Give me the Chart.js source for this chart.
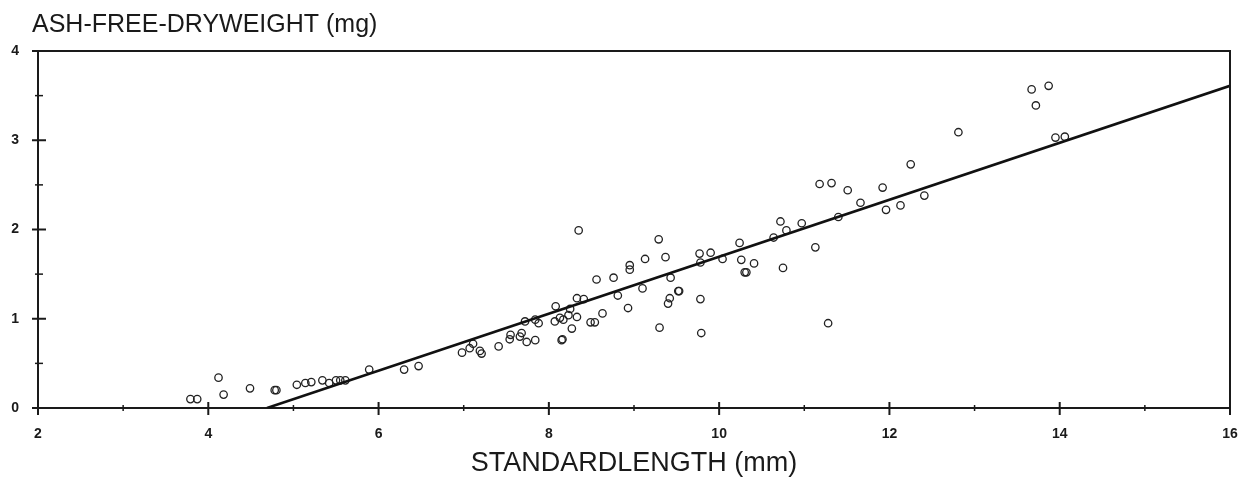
<!DOCTYPE html>
<html>
<head>
<meta charset="utf-8">
<script src="https://cdn.jsdelivr.net/npm/chart.js@4.4.0/dist/chart.umd.min.js"></script>
<style>
  html, body { margin: 0; padding: 0; background: #fff; }
  #wrap { width: 1253px; height: 483px; }
</style>
</head>
<body>
<div id="wrap"><canvas id="mychart"></canvas></div>
<script>
//standard length (mm) of each fish
let lengthMm = [
  3.79, 3.87, 4.12, 4.18, 4.49, 4.78, 4.80, 5.04, 5.14, 5.21,
  5.34, 5.42, 5.50, 5.55, 5.61, 5.89, 6.30, 6.47, 6.98, 7.07,
  7.11, 7.19, 7.21, 7.41, 7.54, 7.55, 7.66, 7.68, 7.74, 7.72,
  7.84, 7.84, 7.88, 8.07, 8.08, 8.15, 8.16, 8.13, 8.17, 8.23,
  8.27, 8.25, 8.33, 8.33, 8.41, 8.49, 8.54, 8.63, 8.35, 8.56,
  8.76, 8.81, 8.93, 8.95, 8.95, 9.13, 9.10, 9.29, 9.37, 9.30,
  9.43, 9.52, 9.53, 9.42, 9.40, 9.78, 9.79, 9.77, 9.78, 9.90,
  10.04, 10.24, 10.26, 10.30, 10.32, 10.41, 10.64, 10.72, 10.79, 10.75,
  10.97, 11.13, 11.40, 11.28, 11.66, 11.18, 11.32, 11.51, 11.92, 11.96,
  12.13, 12.41, 12.25, 12.81, 13.67, 13.87, 13.72, 13.95, 14.06,
];

//ash-free dryweight (mg), same order as lengthMm
let weightMg = [
  0.10, 0.10, 0.34, 0.15, 0.22, 0.20, 0.20, 0.26, 0.28, 0.29,
  0.31, 0.28, 0.31, 0.31, 0.31, 0.43, 0.43, 0.47, 0.62, 0.67,
  0.72, 0.64, 0.61, 0.69, 0.77, 0.82, 0.80, 0.84, 0.74, 0.97,
  0.76, 0.99, 0.95, 0.97, 1.14, 0.76, 0.77, 1.01, 0.99, 1.04,
  0.89, 1.11, 1.02, 1.23, 1.22, 0.96, 0.96, 1.06, 1.99, 1.44,
  1.46, 1.26, 1.12, 1.55, 1.60, 1.67, 1.34, 1.89, 1.69, 0.90,
  1.46, 1.31, 1.31, 1.23, 1.17, 1.22, 0.84, 1.73, 1.63, 1.74,
  1.67, 1.85, 1.66, 1.52, 1.52, 1.62, 1.91, 2.09, 1.99, 1.57,
  2.07, 1.80, 2.14, 0.95, 2.30, 2.51, 2.52, 2.44, 2.47, 2.22,
  2.27, 2.38, 2.73, 3.09, 3.57, 3.61, 3.39, 3.03, 3.04,
];

//ends of the fitted line
let fitX = [4.69, 16];
let fitY = [0, 3.61];

//labelled ticks
let xTickLabels = [2, 4, 6, 8, 10, 12, 14, 16];
let yTickLabels = [0, 1, 2, 3, 4];

let points = lengthMm.map((x, i) => ({ x: x, y: weightMg[i] }));
let fitLine = fitX.map((x, i) => ({ x: x, y: fitY[i] }));

Chart.defaults.font.family = "'Liberation Sans', Arial, sans-serif";
Chart.defaults.color = "#1a1a1a";

//frame on top/right, crossing tick marks, y title
const framePlugin = {
  id: "frame",
  afterDraw(chart) {
    const ctx = chart.ctx;
    const a = chart.chartArea;
    const xs = chart.scales.x;
    const ys = chart.scales.y;
    ctx.save();
    ctx.strokeStyle = "#1a1a1a";
    ctx.lineWidth = 2;
    ctx.beginPath();
    ctx.moveTo(a.left, a.top);
    ctx.lineTo(a.right, a.top);
    ctx.lineTo(a.right, a.bottom);
    ctx.stroke();

    xs.ticks.forEach((t) => {
      let px = xs.getPixelForValue(t.value);
      let major = xTickLabels.includes(t.value);
      ctx.lineWidth = major ? 2 : 1.5;
      ctx.beginPath();
      ctx.moveTo(px, a.bottom - (major ? 6 : 3));
      ctx.lineTo(px, a.bottom + (major ? 7 : 3));
      ctx.stroke();
    });
    ys.ticks.forEach((t) => {
      let py = ys.getPixelForValue(t.value);
      let major = yTickLabels.includes(t.value);
      ctx.lineWidth = major ? 2 : 1.5;
      ctx.beginPath();
      ctx.moveTo(a.left - (major ? 6 : 3), py);
      ctx.lineTo(a.left + (major ? 8 : 5), py);
      ctx.stroke();
    });

    ctx.fillStyle = "#1a1a1a";
    ctx.font = "25px 'Liberation Sans', Arial, sans-serif";
    ctx.textBaseline = "alphabetic";
    ctx.textAlign = "left";
    ctx.fillText("ASH-FREE-DRYWEIGHT (mg)", 32, 32);
    ctx.restore();
  },
};

const config = {
  type: "scatter",
  data: {
    datasets: [
      {
        label: "fish",
        data: points,
        pointStyle: "circle",
        pointRadius: 3.7,
        pointBorderWidth: 1.3,
        pointBorderColor: "#222",
        pointBackgroundColor: "rgba(0,0,0,0)",
        order: 2,
      },
      {
        label: "fit",
        type: "line",
        data: fitLine,
        borderColor: "#111",
        borderWidth: 2.6,
        pointRadius: 0,
        fill: false,
        order: 1,
      },
    ],
  },
  options: {
    responsive: true,
    maintainAspectRatio: false,
    animation: false,
    layout: { padding: { top: 51, right: 23, left: 0, bottom: 0 } },
    plugins: {
      legend: { display: false },
      tooltip: { enabled: false },
    },
    scales: {
      x: {
        type: "linear",
        min: 2,
        max: 16,
        afterFit: (scale) => {
          scale.height = 75;
          scale.paddingLeft = 0;
          scale.paddingRight = 0;
        },
        grid: { display: false, drawTicks: false },
        border: { display: true, color: "#1a1a1a", width: 2 },
        ticks: {
          stepSize: 1,
          autoSkip: false,
          maxRotation: 0,
          padding: 18,
          font: { size: 14, weight: "bold" },
          callback: (v) => (xTickLabels.includes(v) ? v : ""),
        },
        title: {
          display: true,
          text: "STANDARDLENGTH (mm)",
          font: { size: 27 },
          padding: { top: 0, bottom: 3 },
        },
      },
      y: {
        type: "linear",
        min: 0,
        max: 4,
        afterFit: (scale) => {
          scale.width = 38;
          scale.paddingTop = 0;
          scale.paddingBottom = 0;
        },
        grid: { display: false, drawTicks: false },
        border: { display: true, color: "#1a1a1a", width: 2 },
        ticks: {
          stepSize: 0.5,
          autoSkip: false,
          padding: 19,
          font: { size: 14, weight: "bold" },
          callback: (v) => (yTickLabels.includes(v) ? v : ""),
        },
      },
    },
  },
  plugins: [framePlugin],
};

let fishChart = new Chart(document.getElementById("mychart"), config);
</script>
</body>
</html>
